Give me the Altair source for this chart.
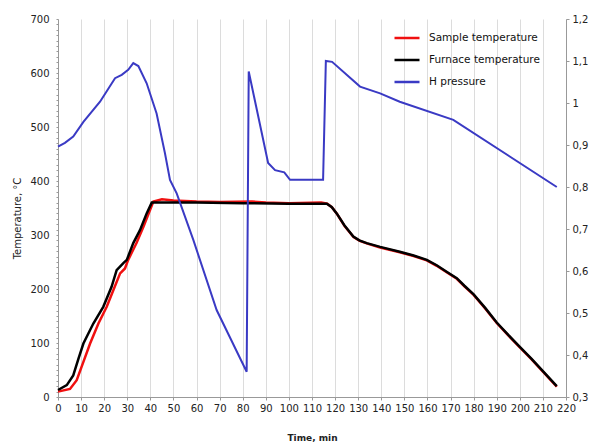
import altair as alt
import pandas as pd

# Furnace temperature (time min, °C)
furnace_t = [0, 3.8, 6.6, 8.8, 11, 15.3, 19.6, 23.2, 25.4, 28.3, 29.8, 32.6, 35.5, 38.4, 40.6,
             60, 80, 100, 114, 116.4, 118.5, 120.7, 124, 127.9, 130.5, 133.7, 139.5, 148,
             154, 159.7, 164, 168.3, 172.7, 176, 180, 185, 190, 195, 200, 205, 210, 216]
furnace_v = [13, 22, 40, 70, 99, 136, 167, 204, 235, 248, 254, 285, 309, 340, 360,
             360, 359, 358, 358, 358, 352, 340, 318, 297, 290, 285, 278, 269,
             262, 254, 244, 232, 220, 206, 190, 165, 138, 115, 93, 71, 48, 20]

# Sample temperature (time min, °C)
sample_t = [0, 5.2, 8.1, 11, 13.9, 17.5, 21.1, 24, 26.9, 29, 30.4, 34, 37, 41.3, 45, 50, 60,
            70, 84, 90, 100, 114, 116.6, 118.7, 121, 124.2, 128, 130.7, 134, 139.5, 148,
            154, 159.7, 164, 168.3, 172.7, 176, 180, 185, 190, 195, 200, 205, 210, 216]
sample_v = [10, 15, 31, 65, 99, 136, 167, 198, 229, 238, 254, 285, 315, 362, 366, 364, 362,
            361, 362, 360, 359, 360, 358, 351, 338, 316, 296, 289, 284, 277, 268,
            261, 253, 243, 231, 219, 205, 189, 164, 137, 114, 92, 70, 47, 19]

# H pressure (time min, right axis)
press_t = [0, 3, 6.6, 11, 18.2, 24.7, 27.6, 30.4, 32.6, 34.8, 38.4, 42.7, 46.3, 48.5, 51.4,
           58.6, 68.7, 81.7, 82.6, 91, 94, 98, 100.5, 114.8, 116, 118.7, 130.8, 139.5, 148,
           171.2, 216]
press_v = [0.896, 0.905, 0.92, 0.955, 1.003, 1.059, 1.067, 1.079, 1.095, 1.088, 1.047, 0.975,
           0.881, 0.817, 0.785, 0.674, 0.507, 0.36, 1.075, 0.857, 0.84, 0.835, 0.817, 0.817,
           1.10, 1.098, 1.039, 1.023, 1.003, 0.96, 0.80]

series_names = ["Sample temperature", "Furnace temperature", "H pressure"]
series_colors = ["#f01010", "#000000", "#3a3ac4"]

temp_df = pd.concat([
    pd.DataFrame({"t": sample_t, "v": sample_v, "s": series_names[0], "o": 0}),
    pd.DataFrame({"t": furnace_t, "v": furnace_v, "s": series_names[1], "o": 1}),
])
press_df = pd.DataFrame({"t": press_t, "v": press_v, "s": series_names[2]})

font = "DejaVu Sans"
color_scale = alt.Scale(domain=series_names, range=series_colors)
legend = alt.Legend(
    title=None, orient="none", legendX=335, legendY=5, symbolType="stroke",
    symbolSize=625, symbolStrokeWidth=2.5, labelFontSize=10.5, labelFont=font,
    labelColor="#111", rowPadding=2, labelOffset=8,
)

x_enc = alt.X("t:Q", scale=alt.Scale(domain=[0, 220], nice=False),
              axis=alt.Axis(values=list(range(0, 221, 10)), title="Time, min",
                            grid=True, gridColor="#dcdcdc", labelFontSize=10,
                            titleFontSize=9, titleFontWeight="bold", labelFont=font,
                            titleFont=font, titleY=40, titleBaseline="middle",
                            labelPadding=3, tickSize=3,
                            domainColor="#999", tickColor="#999", labelColor="#222",
                            titleColor="#222", labelFlush=False, labelOverlap=False))

temp = alt.Chart(temp_df).mark_line(strokeWidth=2.5).encode(
    x=x_enc,
    y=alt.Y("v:Q", scale=alt.Scale(domain=[0, 700], nice=False),
            axis=alt.Axis(values=list(range(0, 701, 10)),
                          labelExpr="datum.value % 100 == 0 ? datum.value : ''",
                          title="Temperature, °C", grid=False, labelFontSize=10,
                          titleFontSize=10, titleFontWeight="normal", labelFont=font,
                          titleFont=font, titleX=-41, titleY=199, titleBaseline="middle",
                          labelPadding=7, tickSize=2,
                          domainColor="#999", tickColor="#999", labelColor="#222",
                          titleColor="#222")),
    color=alt.Color("s:N", scale=color_scale, legend=legend),
    detail="s:N",
    order="o:Q",
)

press = alt.Chart(press_df).mark_line(strokeWidth=2).encode(
    x=x_enc,
    y=alt.Y("v:Q", scale=alt.Scale(domain=[0.3, 1.2], nice=False, zero=False),
            axis=alt.Axis(orient="right", values=[round(0.3 + 0.1 * i, 1) for i in range(10)],
                          labelExpr="replace(format(datum.value, '.1~f'), '.', ',')",
                          title=None, grid=False, labelFontSize=10, labelFont=font,
                          labelPadding=3, tickSize=3, domainColor="#999",
                          tickColor="#999", labelColor="#222")),
    color=alt.Color("s:N", scale=color_scale, legend=legend),
)

chart = alt.layer(temp, press).resolve_scale(y="independent").properties(
    width=508, height=378,
    autosize=alt.AutoSizeParams(type="none"),
    padding={"left": 58, "top": 19, "right": 29, "bottom": 49},
    background="white",
).configure_view(stroke=None)

chart.save("out.html", embed_options={"renderer": "svg", "actions": False})
